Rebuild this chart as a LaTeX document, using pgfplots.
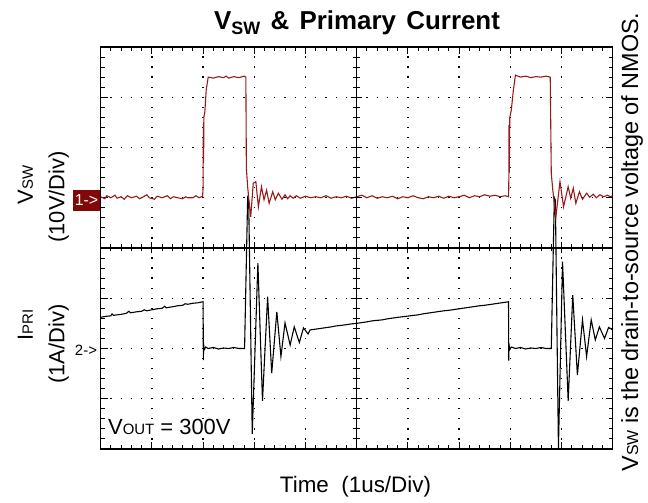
\documentclass[border=0pt]{standalone}
\usepackage{pgfplots}
\pgfplotsset{compat=1.18}
\usepackage{fontspec}
\setmainfont{Liberation Sans}
\definecolor{trace}{RGB}{150,28,28}
\definecolor{boxred}{RGB}{128,8,8}
\begin{document}
\begin{tikzpicture}[x=1bp,y=1bp]
\useasboundingbox (-100.7,-54) rectangle (547.3,449);
\begin{axis}[
  scale only axis, width=512bp, height=402bp,
  xmin=0, xmax=10, ymin=0, ymax=8,
  xtick={0,...,10}, ytick={0,...,8},
  minor x tick num=4, minor y tick num=4,
  xticklabels={}, yticklabels={},
  tick align=inside, major tick length=7bp, minor tick length=4bp,
  every tick/.style={black, line width=0.9bp},
  axis line style={black, line width=1.5bp},
  grid=major,
  major x grid style={black, line width=1.3bp, dash pattern=on 1.3bp off 8.75bp, dash phase=0.65bp},
  major y grid style={black, line width=1.3bp, dash pattern=on 1.3bp off 8.94bp, dash phase=0.65bp},
]
\addplot[black, line width=1.1bp] table {
x y
0 2.62
0.1 2.64
0.2 2.65
0.22 2.69
0.25 2.66
0.4 2.68
0.5 2.70
0.55 2.74
0.58 2.71
0.7 2.73
0.8 2.74
0.85 2.77
0.9 2.75
1.0 2.77
1.1 2.79
1.2 2.80
1.25 2.84
1.28 2.81
1.4 2.83
1.5 2.85
1.6 2.86
1.65 2.89
1.7 2.88
1.8 2.90
1.9 2.91
1.995 2.93
2.0 2.93
2.005 1.77
2.01 2.1
2.02 1.97
2.05 2.03
2.1 2.0
2.2 2.02
2.3 1.99
2.4 2.01
2.5 2.0
2.6 2.02
2.7 2.0
2.81 2.0
2.87 5.0
2.89 4.95
2.96 0.3
3.07 3.70
3.16 0.96
3.26 3.03
3.34 1.51
3.44 2.73
3.52 1.84
3.60 2.51
3.70 2.07
3.78 2.43
3.88 2.12
3.96 2.41
4.05 2.29
4.09 2.37
4.3 2.40
4.5 2.43
4.6 2.45
4.7 2.46
4.9 2.49
5.0 2.50
5.2 2.53
5.3 2.55
5.5 2.57
5.6 2.59
5.8 2.62
6.0 2.645
6.2 2.67
6.3 2.69
6.5 2.72
6.7 2.75
6.8 2.76
7.0 2.79
7.2 2.82
7.4 2.85
7.5 2.86
7.7 2.89
7.9 2.92
7.965 2.93
7.97 1.76
7.975 2.1
7.985 1.97
8.02 2.03
8.1 2.0
8.2 2.02
8.3 1.99
8.4 2.01
8.5 2.0
8.6 2.02
8.7 2.0
8.80 2.0
8.86 5.0
8.88 4.95
8.94 0.02
9.02 3.73
9.13 0.96
9.22 3.06
9.31 1.47
9.41 2.57
9.49 1.84
9.58 2.57
9.66 2.17
9.74 2.43
9.84 2.20
9.92 2.42
10 2.37
};
\addplot[trace, line width=1.1bp] table {
x y
0 5.02
0.08 4.98
0.12 5.04
0.2 5.0
0.28 5.05
0.32 4.99
0.4 5.02
0.46 4.97
0.52 5.04
0.6 5.0
0.7 5.03
0.76 4.98
0.82 5.01
0.9 5.06
0.95 5.0
1.05 4.97
1.1 5.03
1.2 5.0
1.3 5.04
1.36 4.98
1.42 5.02
1.5 5.0
1.6 4.98
1.66 5.02
1.7 5.0
1.8 5.0
1.86 5.04
1.92 5.0
1.99 5.03
2.0 5.2
2.005 6.5
2.01 5.7
2.015 6.6
2.035 6.72
2.06 7.14
2.10 7.40
2.2 7.38
2.3 7.41
2.4 7.39
2.45 7.42
2.5 7.38
2.6 7.41
2.7 7.39
2.8 7.42
2.835 7.40
2.845 5.59
2.87 5.22
2.90 4.9
2.93 4.62
2.98 5.29
3.03 5.32
3.08 4.82
3.14 5.22
3.19 4.96
3.24 5.15
3.29 4.89
3.36 5.12
3.41 4.96
3.47 5.09
3.54 4.97
3.60 5.06
3.65 4.98
3.70 5.04
3.76 4.99
3.82 5.04
3.9 4.99
4.0 5.03
4.1 5.0
4.2 5.02
4.3 5.0
4.4 5.04
4.5 4.99
4.6 5.02
4.7 5.0
4.8 5.03
4.9 4.99
5.0 5.02
5.1 5.05
5.2 5.0
5.3 5.04
5.4 4.99
5.5 5.02
5.6 5.0
5.7 5.03
5.8 4.98
5.9 5.02
6.0 5.0
6.1 5.04
6.2 5.0
6.3 4.98
6.4 5.02
6.5 5.0
6.6 5.03
6.7 4.99
6.8 5.03
6.9 5.0
7.0 5.02
7.1 5.05
7.2 5.0
7.3 5.04
7.4 5.02
7.5 5.06
7.6 5.03
7.7 5.05
7.8 5.02
7.9 5.04
7.965 5.02
7.97 5.2
7.975 6.45
7.98 5.5
7.99 6.6
8.02 6.75
8.06 7.14
8.10 7.44
8.2 7.40
8.3 7.42
8.4 7.39
8.5 7.41
8.6 7.40
8.7 7.42
8.78 7.40
8.80 5.49
8.83 5.15
8.89 4.62
8.97 5.32
9.04 4.82
9.13 5.22
9.18 4.99
9.23 5.19
9.28 4.89
9.35 5.12
9.41 4.97
9.49 5.09
9.55 5.01
9.62 5.07
9.68 5.0
9.75 5.06
9.82 5.02
9.9 5.05
9.95 5.02
10 5.04
};
\end{axis}
\begin{axis}[
  scale only axis, width=512bp, height=402bp,
  xmin=-5, xmax=5, ymin=-4, ymax=4,
  axis lines=middle, axis line style={-, black, line width=1.5bp},
  xtick={-5,...,5}, ytick={-4,...,4},
  minor x tick num=4, minor y tick num=4,
  xticklabels={}, yticklabels={},
  tick align=center, major tick length=11bp, minor tick length=7bp,
  every tick/.style={black, line width=0.9bp},
]
\end{axis}
% titles and labels
\node[font=\bfseries\fontsize{26}{30}\selectfont] at (256.3,426) {V\raisebox{-5bp}{\fontsize{18}{20}\selectfont SW}\hspace{0.4em}\&\hspace{0.4em}Primary\hspace{0.4em}Current};
\node[anchor=base, font=\fontsize{22.5}{26}\selectfont] at (254.8,-44) {Time\ \ (1us/Div)};
\node[rotate=90, anchor=base, font=\fontsize{23.5}{27}\selectfont] at (537.3,207) {V{\fontsize{16}{18}\selectfont SW} is the drain-to-source voltage of NMOS.};
\node[rotate=90, anchor=base, font=\fontsize{22}{26}\selectfont] at (-67.7,264) {V{\fontsize{15}{18}\selectfont SW}};
\node[rotate=90, anchor=base, font=\fontsize{22}{26}\selectfont] at (-36.2,252) {(10V/Div)};
\node[rotate=90, anchor=base, font=\fontsize{22}{26}\selectfont] at (-67.7,124) {I{\fontsize{15}{18}\selectfont PRI}};
\node[rotate=90, anchor=base, font=\fontsize{22}{26}\selectfont] at (-36.2,105) {(1A/Div)};
\fill[boxred] (-27.7,238) rectangle (-0.7,259);
\node[text=white, font=\fontsize{16}{18}\selectfont] at (-14.2,248.5) {1->};
\node[font=\fontsize{15}{18}\selectfont] at (-14.7,99) {2->};
\node[anchor=base west, font=\fontsize{22}{26}\selectfont, fill=white, inner sep=1bp] at (6.3,14) {V{\fontsize{15}{18}\selectfont OUT} = 300V};
\end{tikzpicture}
\end{document}
